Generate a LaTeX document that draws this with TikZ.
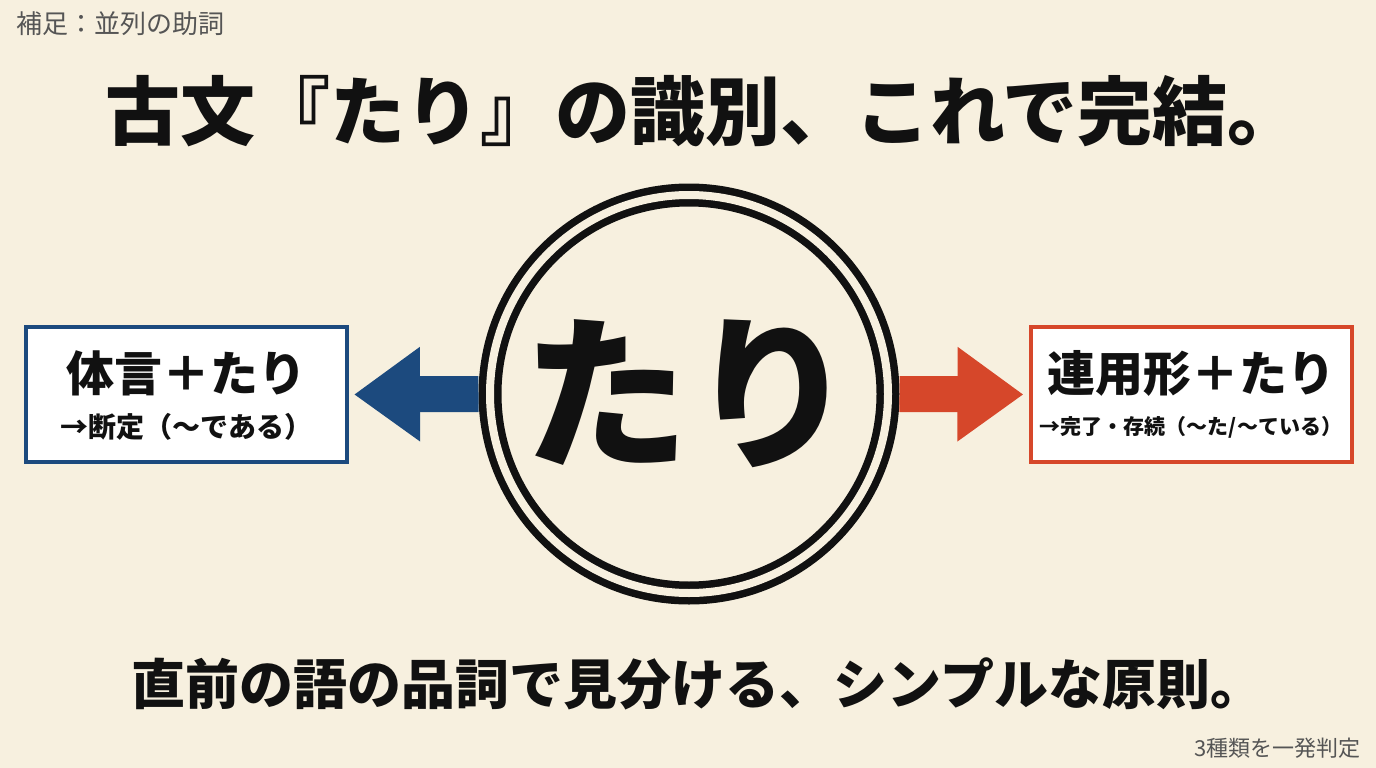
\documentclass[tikz,border=0pt]{standalone}
\usepackage{fontspec}
\setmainfont{Noto Sans CJK JP}
\usepackage{xcolor}
\definecolor{bg00}{HTML}{F7F0DF}
\definecolor{blu00}{HTML}{1C4A7E}
\definecolor{red00}{HTML}{D6472A}
\definecolor{ink00}{HTML}{111111}
\definecolor{gry00}{HTML}{555555}
\usepackage{tikz}
\usetikzlibrary{arrows.meta}
\usetikzlibrary{positioning}
\tikzstyle{kind_box} = [rectangle, minimum width=321pt, minimum height=135pt, line width=4pt, fill=white]
\tikzstyle{head_txt} = [font=\bfseries\fontsize{48}{48}\selectfont, text=ink00]
\tikzstyle{sub_txt} = [font=\bfseries\fontsize{28}{28}\selectfont, text=ink00]
\tikzstyle{big_arr} = [line width=36pt, -{Triangle[length=66pt,width=90pt]}, shorten >=5pt]
\tikzstyle{side_txt} = [text=gry00, font=\fontsize{26}{26}\selectfont]

\begin{document}
\begin{tikzpicture}[x=1pt,y=-1pt]
        \fill[bg00] (0,0) rectangle (1376,768);
        \useasboundingbox (0,0) rectangle (1376,768);
        \node (note)[side_txt, anchor=west] at (13,24) {補足：並列の助詞};
        \node (title)[font=\bfseries\fontsize{75}{75}\selectfont, text=ink00] at (704,111) {古文『たり』の識別、これで完結。};
        \node (tari)[circle, draw=ink00, line width=7.5pt, double=bg00, double distance=8pt, minimum size=398pt, inner sep=0pt, outer sep=11.5pt, font=\bfseries\fontsize{166}{166}\selectfont, text=ink00] at (689,394) {たり};
        \node (lbox)[kind_box, draw=blu00] at (186.5,394.5) {};
        \node (lhead)[head_txt] at ([yshift=21.5pt]lbox.center) {体言＋たり};
        \node (lsub)[sub_txt] at ([yshift=-32.5pt]lbox.center) {→断定（〜である）};
        \node (rbox)[kind_box, draw=red00] at (1191,394.5) {};
        \node (rhead)[head_txt] at ([yshift=21.5pt]rbox.center) {連用形＋たり};
        \node (rsub)[sub_txt, font=\bfseries\fontsize{21}{21}\selectfont] at ([yshift=-32.5pt]rbox.center) {→完了・存続（〜た/〜ている）};
        \draw [big_arr, blu00] (tari.west) -- (lbox.east);
        \draw [big_arr, red00] (tari.east) -- (rbox.west);
        \node (motto)[font=\bfseries\fontsize{54}{54}\selectfont, text=ink00] at (698,684) {直前の語の品詞で見分ける、シンプルな原則。};
        \node (tag)[side_txt, font=\fontsize{22}{22}\selectfont, anchor=east] at (1364,748) {3種類を一発判定};
\end{tikzpicture}
\end{document}
